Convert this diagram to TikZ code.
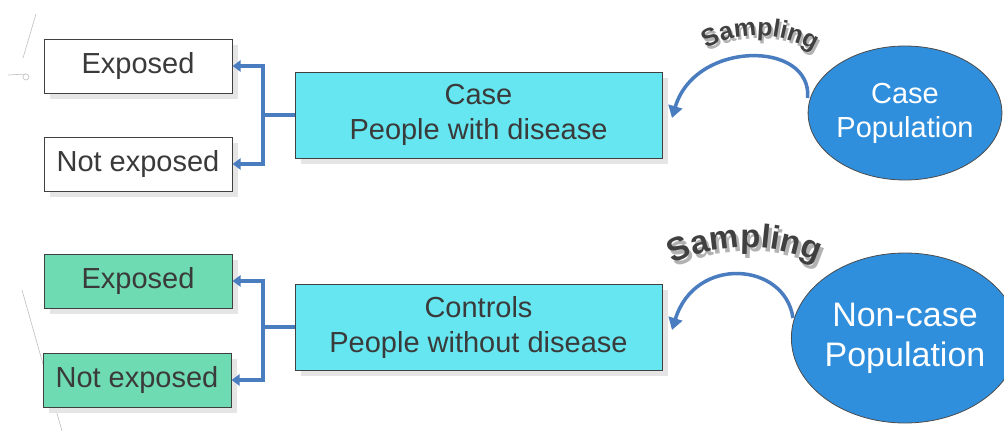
\documentclass[tikz,border=0pt]{standalone}
\usepackage{fontspec}
\setmainfont{Liberation Sans}
\usetikzlibrary{shapes.geometric,arrows.meta,shadows,decorations.text}
\definecolor{linkblue}{HTML}{4A7CC0}
\definecolor{boxcyan}{HTML}{66E6F0}
\definecolor{boxgreen}{HTML}{6EDBB2}
\definecolor{popblue}{HTML}{2F8FDD}
\definecolor{txtgrey}{HTML}{3A3A3A}
\tikzset{
  expbox/.style={draw=black!75, line width=1pt, minimum width=188pt, minimum height=54pt,
    inner sep=0pt, font=\fontsize{29}{34}\selectfont, text=txtgrey,
    drop shadow={shadow xshift=6pt, shadow yshift=-6pt, fill=black!10, opacity=1}},
  groupbox/.style={draw=black!75, line width=1pt, fill=boxcyan, minimum width=367pt, minimum height=86pt,
    inner sep=0pt, align=center, font=\fontsize{29}{35}\selectfont, text=txtgrey,
    drop shadow={shadow xshift=6pt, shadow yshift=-6pt, fill=black!10, opacity=1}},
  popnode/.style={ellipse, draw=black!70, line width=0.8pt, fill=popblue, inner sep=0pt,
    align=center, text=white},
  conn/.style={draw=linkblue, line width=4pt, -{Triangle[length=8pt,width=11pt]}},
  samparrow/.style={draw=linkblue, line width=3.5pt, -{Triangle[length=12pt,width=14pt]}},
}
\begin{document}
\begin{tikzpicture}[x=1pt,y=-1pt]
\useasboundingbox (0,0) rectangle (1004,431);
\fill[white] (0,0) rectangle (1004,431);
% faint pencil marks from the scan
\draw[black!25, line width=0.6pt] (36,14) -- (23,58);
\draw[black!25, line width=0.6pt] (8,75) -- (26,74) arc[start angle=-90, end angle=270, radius=3];
\draw[black!25, line width=0.6pt] (22,290) -- (62,431);

% left boxes
\node[expbox, fill=white] (exp1) at (138,66) {Exposed};
\node[expbox, fill=white] (nexp1) at (138,164) {Not exposed};
\node[expbox, fill=boxgreen] (exp2) at (138,281) {Exposed};
\node[expbox, fill=boxgreen] (nexp2) at (137,380) {Not exposed};

% middle boxes
\node[groupbox] (case) at (478.5,115) {Case\\People with disease};
\node[groupbox] (ctrl) at (478.5,327) {Controls\\People without disease};

% populations
\node[popnode, minimum width=170pt, minimum height=134pt,
  font=\fontsize{29}{34}\selectfont] (casepop) at (905,113) {Case\\Population};
\node[popnode, minimum width=216pt, minimum height=170pt,
  font=\fontsize{34}{40}\selectfont] (ncpop) at (905,338) {Non-case\\Population};

% connectors
\draw[conn] (case.west) -- ++(-32,0) coordinate (j1) |- (exp1.east);
\draw[conn] (j1) |- (nexp1.east);
\draw[conn] (ctrl.west) -- ++(-32,0) coordinate (j2) |- (exp2.east);
\draw[conn] (j2) |- (nexp2.east);

% sampling arrows
\draw[samparrow] (casepop.west) ++(0,-15) .. controls (812,40) and (695,40) .. (672,118);
\draw[samparrow] (ncpop.west) ++(2,-20) .. controls (785,262) and (695,255) .. (672,330);

% sampling labels
\path[decorate, decoration={text along path, text align=center,
  text={|\fontsize{25}{25}\bfseries\color{black!30}|Sampling}}]
  (704,55) .. controls (735,33) and (785,33) .. (820,57);
\path[decorate, decoration={text along path, text align=center,
  text={|\fontsize{25}{25}\bfseries\color{black!75}|Sampling}}]
  (702,52) .. controls (733,30) and (783,30) .. (818,54);
\path[decorate, decoration={text along path, text align=center,
  text={|\fontsize{33}{33}\bfseries\color{black!30}|Sampling}}]
  (669,272) .. controls (715,245) and (780,245) .. (827,270);
\path[decorate, decoration={text along path, text align=center,
  text={|\fontsize{33}{33}\bfseries\color{black!75}|Sampling}}]
  (666,268) .. controls (712,241) and (777,241) .. (824,266);
\end{tikzpicture}
\end{document}
